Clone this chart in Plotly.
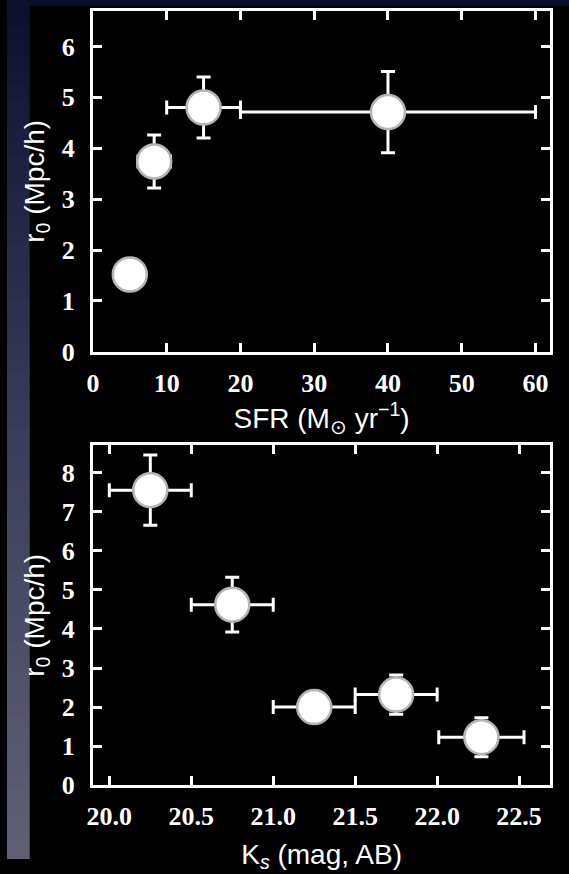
import plotly.graph_objects as go

# ---- data: top panel (SFR) ----
sfr_x = [5.0, 8.3, 15.0, 40.0]
sfr_xerr = [0.0, 2.2, 5.0, 20.0]
sfr_r0 = [1.52, 3.74, 4.80, 4.71]
sfr_r0_err = [0.0, 0.52, 0.60, 0.80]
sfr_xticks = [0, 10, 20, 30, 40, 50, 60]
sfr_yticks = [0, 1, 2, 3, 4, 5, 6]

# ---- data: bottom panel (Ks magnitude) ----
ks_x = [20.25, 20.75, 21.25, 21.75, 22.27]
ks_xerr = [0.25, 0.25, 0.25, 0.25, 0.26]
ks_r0 = [7.55, 4.62, 2.00, 2.32, 1.23]
ks_r0_err = [0.90, 0.70, 0.0, 0.50, 0.50]
ks_xticks = [20.0, 20.5, 21.0, 21.5, 22.0, 22.5]
ks_yticks = [0, 1, 2, 3, 4, 5, 6, 7, 8]

W, H = 569, 874

def marker_trace(x, y, xerr, yerr, xa, ya):
    return go.Scatter(
        x=x, y=y, xaxis=xa, yaxis=ya, mode="markers",
        marker=dict(size=34, color="white", line=dict(color="#b4b4b4", width=2.5)),
        error_x=dict(type="data", array=xerr, visible=True, color="white", thickness=3, width=7),
        error_y=dict(type="data", array=yerr, visible=True, color="white", thickness=3, width=7),
        hoverinfo="skip", showlegend=False,
    )

fig = go.Figure()
fig.add_trace(marker_trace(sfr_x, sfr_r0, sfr_xerr, sfr_r0_err, "x", "y"))
fig.add_trace(marker_trace(ks_x, ks_r0, ks_xerr, ks_r0_err, "x2", "y2"))

tickfont = dict(family="Liberation Serif", size=26, color="white", weight="bold")
titlefont = dict(family="Liberation Sans", size=28, color="white")

def ax(domain, rng, tickvals, fmt=None, title=None, standoff=None, anchor=None, lblgap=8):
    d = dict(
        domain=domain, range=rng, tickvals=tickvals, showgrid=False, zeroline=False,
        showline=True, linecolor="white", linewidth=3, mirror="allticks",
        ticks="inside", ticklen=9, tickwidth=2.5, tickcolor="white",
        tickfont=tickfont, anchor=anchor, ticklabelstandoff=lblgap,
    )
    if fmt:
        d["tickformat"] = fmt
    if title:
        d["title"] = dict(text=title, font=titlefont, standoff=standoff)
    return d

xdom = [87 / W, 550 / W]
top_dom = [1 - 358 / H, 1 - 11 / H]
bot_dom = [1 - 799 / H, 1 - 453 / H]

fig.update_layout(
    width=W, height=H,
    margin=dict(l=0, r=0, t=0, b=0),
    paper_bgcolor="black", plot_bgcolor="black",
    xaxis=ax(xdom, [0, 62], sfr_xticks, title="SFR (M<sub>⊙</sub> yr<sup>−1</sup>)",
             standoff=12, anchor="y", lblgap=6),
    yaxis=ax(top_dom, [0, 6.7], sfr_yticks, title="r<sub>0</sub> (Mpc/h)",
             standoff=9, anchor="x", lblgap=10),
    xaxis2=ax(xdom, [19.9, 22.69], ks_xticks, fmt=".1f", title="K<sub><i>s</i></sub> (mag, AB)",
              standoff=14, anchor="y2", lblgap=6),
    yaxis2=ax(bot_dom, [0, 8.7], ks_yticks, title="r<sub>0</sub> (Mpc/h)",
              standoff=9, anchor="x2", lblgap=10),
)

# slide background: bluish strip on the left (smooth gradient) and a thin navy band on top
top_rgb = (12, 16, 46)
mid_rgb = (58, 61, 90)
bot_rgb = (96, 97, 116)
n = 60
shapes = []
for i in range(n):
    t = (i + 0.5) / n
    if t < 0.5:
        u = t / 0.5
        c = [round(top_rgb[k] + (mid_rgb[k] - top_rgb[k]) * u) for k in range(3)]
    else:
        u = (t - 0.5) / 0.5
        c = [round(mid_rgb[k] + (bot_rgb[k] - mid_rgb[k]) * u) for k in range(3)]
    shapes.append(dict(type="rect", xref="paper", yref="paper", x0=0, x1=23 / W,
                       y0=1 - (i + 1) / n, y1=1 - i / n + 0.001,
                       fillcolor="rgb(%d,%d,%d)" % tuple(c), line=dict(width=0), layer="below"))
shapes.append(dict(type="rect", xref="paper", yref="paper", x0=23 / W, x1=1,
                   y0=1 - 6 / H, y1=1, fillcolor="#0a0e2a", line=dict(width=0), layer="below"))
fig.update_layout(shapes=shapes)

fig.write_html("out.html")
